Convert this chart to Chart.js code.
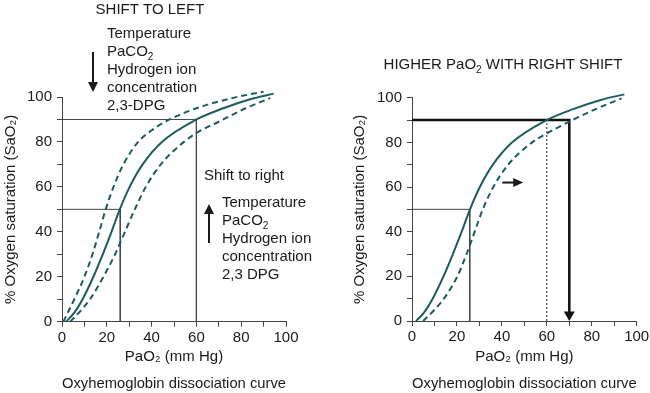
<!DOCTYPE html>
<html>
<head>
<meta charset="utf-8">
<script src="https://cdn.jsdelivr.net/npm/chart.js@4.4.1/dist/chart.umd.min.js"></script>
<style>
  html, body { margin: 0; padding: 0; background: #fff; }
  #wrap { position: relative; width: 650px; height: 393px; }
  canvas { position: absolute; top: 0; }
</style>
</head>
<body>
<div id="wrap">
  <canvas id="leftChart" width="325" height="393" style="left:0"></canvas>
  <canvas id="rightChart" width="325" height="393" style="left:325px"></canvas>
</div>
<script>
// curves: PaO2 (mm Hg) and matching SaO2 (%)
var normalPaO2 = [1.8, 5.5, 9.2, 14, 18.2, 22.1, 25.8, 30.2, 36, 44.6, 60, 72, 84, 94.5];
var normalSat = [0, 4, 10, 20, 30, 40, 50, 60, 70, 80, 90, 95, 99, 101.5];

var leftShiftPaO2 = [0.6, 5.5, 10, 13.6, 16.6, 19.5, 23, 27.4, 34, 40.5, 48, 60, 75, 90];
var leftShiftSat = [0, 10, 20, 30, 40, 50, 60, 70, 80, 85.5, 90, 95, 99.3, 102.4];

var rightShiftPaO2 = [3.6, 8, 12.5, 18.5, 23.7, 28.1, 32.5, 37.4, 44.1, 54.4, 60, 71, 82, 93];
var rightShiftSat = [0, 4.5, 10, 20, 30, 40, 50, 60, 70, 80, 84, 89.5, 95, 99.5];

// second panel, shifted curve
var shiftedPaO2 = [4.9, 9.5, 14.2, 20.2, 24.3, 27.9, 31.5, 36.2, 42.8, 53.5, 60, 71, 82, 93.3];
var shiftedSat = [0, 4.5, 10, 20, 30, 40, 50, 60, 70, 80, 84, 89.8, 95, 99.7];

// reference readings
var p50Left = 26, p90Left = 60, sat50 = 50, sat90 = 90;
var p50Right = 25.7, p90Normal = 60, p90Shifted = 70;

var TEAL = '#1c5c5c';
var INK = '#1a1a1a';
var FONT = '"Liberation Sans", Arial, sans-serif';

Chart.defaults.font.family = FONT;
Chart.defaults.font.size = 15;
Chart.defaults.color = INK;

function pts(xs, ys) {
  return xs.map(function (x, i) { return { x: x, y: ys[i] }; });
}

function curve(xs, ys, dashed) {
  return {
    data: pts(xs, ys),
    borderColor: TEAL,
    borderWidth: 2,
    borderDash: dashed ? [6, 4] : [],
    cubicInterpolationMode: 'monotone',
    pointRadius: 0,
    clip: false,
    order: 0
  };
}

function guide(points, color, width, dash) {
  return {
    data: points,
    borderColor: color,
    borderWidth: width,
    borderDash: dash || [],
    borderCapStyle: 'butt',
    borderJoinStyle: 'miter',
    pointRadius: 0,
    tension: 0,
    clip: false,
    order: 1
  };
}

function makeScales(yWidth, yTitlePad, xHeight) {
  return {
    x: {
      type: 'linear', min: 0, max: 100,
      ticks: {
        stepSize: 10, autoSkip: false, maxRotation: 0, padding: 2,
        callback: function (v) { return v % 20 === 0 ? v : ''; }
      },
      grid: { drawOnChartArea: false, tickLength: 5, color: '#444' },
      border: { color: '#444', width: 1 },
      title: {
        display: true,
        text: ['PaO\u2082 (mm Hg)', 'Oxyhemoglobin dissociation curve'],
        font: { size: 15, lineHeight: 1.8 },
        padding: { top: 0, bottom: -4.5 }
      },
      afterFit: function (s) { s.height = xHeight; s.paddingLeft = 0; s.paddingRight = 0; }
    },
    y: {
      type: 'linear', min: 0, max: 100,
      ticks: {
        stepSize: 10, autoSkip: false, padding: 5,
        callback: function (v) { return v % 20 === 0 ? v : ''; }
      },
      grid: { drawOnChartArea: false, tickLength: 5, color: '#444' },
      border: { color: '#444', width: 1 },
      title: {
        display: true,
        text: '% Oxygen saturation (SaO\u2082)',
        font: { size: 15, lineHeight: 1.2 },
        padding: { top: yTitlePad, bottom: 0 }
      },
      afterFit: function (s) { s.width = yWidth; s.paddingTop = 0; s.paddingBottom = 0; }
    }
  };
}

// text with "_2" style subscripts
function richWidth(ctx, s) {
  var parts = s.split('_'), w = 0;
  ctx.font = '15px ' + FONT;
  w += ctx.measureText(parts[0]).width;
  for (var i = 1; i < parts.length; i++) {
    ctx.font = '10px ' + FONT;
    w += ctx.measureText(parts[i][0]).width;
    ctx.font = '15px ' + FONT;
    w += ctx.measureText(parts[i].slice(1)).width;
  }
  return w;
}

function drawRich(ctx, s, x, y, center) {
  var parts = s.split('_');
  if (center) x -= richWidth(ctx, s) / 2;
  ctx.save();
  ctx.fillStyle = INK;
  ctx.textAlign = 'left';
  ctx.textBaseline = 'alphabetic';
  ctx.font = '15px ' + FONT;
  ctx.fillText(parts[0], x, y);
  x += ctx.measureText(parts[0]).width;
  for (var i = 1; i < parts.length; i++) {
    ctx.font = '10px ' + FONT;
    ctx.fillText(parts[i][0], x, y + 4);
    x += ctx.measureText(parts[i][0]).width;
    ctx.font = '15px ' + FONT;
    ctx.fillText(parts[i].slice(1), x, y);
    x += ctx.measureText(parts[i].slice(1)).width;
  }
  ctx.restore();
}

function arrow(ctx, x1, y1, x2, y2, width, headLen, headHalf, color) {
  var dx = x2 - x1, dy = y2 - y1, len = Math.sqrt(dx * dx + dy * dy);
  var ux = dx / len, uy = dy / len;
  var bx = x2 - ux * headLen, by = y2 - uy * headLen;
  ctx.save();
  ctx.strokeStyle = color;
  ctx.fillStyle = color;
  ctx.lineWidth = width;
  ctx.beginPath();
  ctx.moveTo(x1, y1);
  ctx.lineTo(bx + ux, by + uy);
  ctx.stroke();
  ctx.beginPath();
  ctx.moveTo(x2, y2);
  ctx.lineTo(bx - uy * headHalf, by + ux * headHalf);
  ctx.lineTo(bx + uy * headHalf, by - ux * headHalf);
  ctx.closePath();
  ctx.fill();
  ctx.restore();
}

var leftNotes = {
  id: 'leftNotes',
  afterDraw: function (chart) {
    var ctx = chart.ctx;
    drawRich(ctx, 'SHIFT TO LEFT', 150, 14, true);
    var top = ['Temperature', 'PaCO_2', 'Hydrogen ion', 'concentration', '2,3-DPG'];
    top.forEach(function (t, i) { drawRich(ctx, t, 107, 38 + i * 18); });
    arrow(ctx, 93, 52, 93, 92, 2, 10, 5, INK);

    drawRich(ctx, 'Shift to right', 204, 180);
    var mid = ['Temperature', 'PaCO_2', 'Hydrogen ion', 'concentration', '2,3 DPG'];
    mid.forEach(function (t, i) { drawRich(ctx, t, 222, 207 + i * 18); });
    arrow(ctx, 209, 243, 209, 204, 2, 10, 5, INK);
  }
};

var rightNotes = {
  id: 'rightNotes',
  afterDraw: function (chart) {
    var ctx = chart.ctx, xs = chart.scales.x, ys = chart.scales.y;
    drawRich(ctx, 'HIGHER PaO_2 WITH RIGHT SHIFT', 178, 69, true);
    // small shift arrow inside the plot
    arrow(ctx, xs.getPixelForValue(40.2), ys.getPixelForValue(62),
      xs.getPixelForValue(49.5), ys.getPixelForValue(62), 2, 10, 4.5, INK);
    // head of the thick arrow down to the axis
    var ax = xs.getPixelForValue(p90Shifted), ay = ys.getPixelForValue(0);
    ctx.save();
    ctx.fillStyle = '#111';
    ctx.beginPath();
    ctx.moveTo(ax, ay);
    ctx.lineTo(ax - 5.5, ay - 9.5);
    ctx.lineTo(ax + 5.5, ay - 9.5);
    ctx.closePath();
    ctx.fill();
    ctx.restore();
  }
};

new Chart(document.getElementById('leftChart'), {
  type: 'line',
  data: {
    datasets: [
      curve(normalPaO2, normalSat, false),
      curve(leftShiftPaO2, leftShiftSat, true),
      curve(rightShiftPaO2, rightShiftSat, true),
      guide([{ x: 0, y: sat90 }, { x: p90Left, y: sat90 }, { x: p90Left, y: 0 }], '#444', 1),
      guide([{ x: 0, y: sat50 }, { x: p50Left, y: sat50 }, { x: p50Left, y: 0 }], '#444', 1)
    ]
  },
  options: {
    responsive: false,
    animation: false,
    layout: { padding: { top: 97, right: 39, bottom: 0, left: 0 } },
    plugins: { legend: { display: false }, tooltip: { enabled: false } },
    scales: makeScales(62, 2, 71.3)
  },
  plugins: [leftNotes]
});

new Chart(document.getElementById('rightChart'), {
  type: 'line',
  data: {
    datasets: [
      curve(normalPaO2, normalSat, false),
      curve(shiftedPaO2, shiftedSat, true),
      guide([{ x: 0, y: sat50 }, { x: p50Right, y: sat50 }, { x: p50Right, y: 0 }], '#444', 1),
      guide([{ x: p90Normal, y: 0 }, { x: p90Normal, y: sat90 }], '#222', 1, [2, 2]),
      guide([{ x: 0, y: sat90 }, { x: p90Shifted, y: sat90 }, { x: p90Shifted, y: 2 }], '#111', 2.5)
    ]
  },
  options: {
    responsive: false,
    animation: false,
    layout: { padding: { top: 97.7, right: 13.3, bottom: 0, left: 0 } },
    plugins: { legend: { display: false }, tooltip: { enabled: false } },
    scales: makeScales(87, 26, 72)
  },
  plugins: [rightNotes]
});
</script>
</body>
</html>
